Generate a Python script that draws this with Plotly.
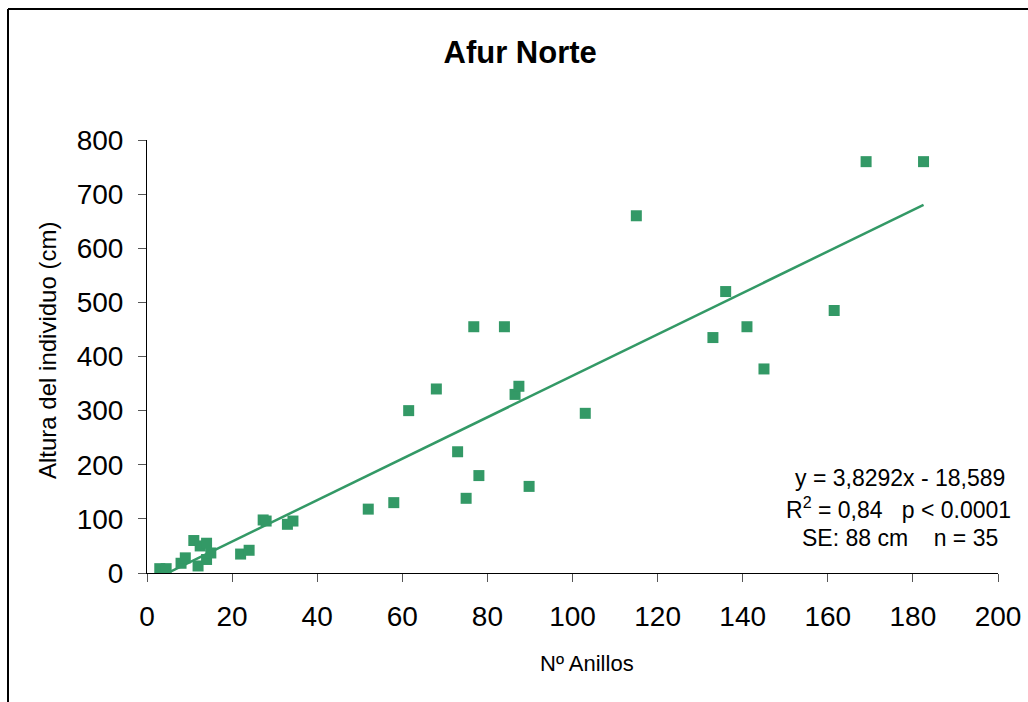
import plotly.graph_objects as go

# Data
anillos = [3, 4.5, 8, 9, 11, 12, 12.5, 14, 14, 15, 22, 24, 27.3, 28, 33, 34.3,
           52, 58, 61.5, 68, 73, 75, 76.8, 78, 84, 86.5, 87.4, 89.8, 103,
           115, 133, 136, 141, 145, 161.5, 169, 182.5]
altura = [8, 8, 18, 28, 60, 13, 50, 55, 25, 37, 35, 42, 98, 96, 90, 96,
          118, 130, 300, 340, 224, 138, 455, 180, 455, 330, 345, 160, 295,
          660, 435, 520, 455, 377, 485, 760, 760]

slope = 3.8292
intercept = -18.589
trend_x = [min(anillos), max(anillos)]
trend_y = [slope * v + intercept for v in trend_x]

x_ticks = [0, 20, 40, 60, 80, 100, 120, 140, 160, 180, 200]
y_ticks = [0, 100, 200, 300, 400, 500, 600, 700, 800]

green = "#339966"
font = "Liberation Sans, Arial, sans-serif"

fig = go.Figure()
fig.add_trace(go.Scatter(x=trend_x, y=trend_y, mode="lines",
                         line=dict(color=green, width=2.5), hoverinfo="skip"))
fig.add_trace(go.Scatter(x=anillos, y=altura, mode="markers",
                         marker=dict(symbol="square", size=11, color=green,
                                     line=dict(width=0))))

W, H = 1028, 702
L, R, T, B = 147, 30, 140, 129

fig.update_layout(
    width=W, height=H,
    margin=dict(l=L, r=R, t=T, b=B, autoexpand=False),
    paper_bgcolor="white", plot_bgcolor="white",
    showlegend=False,
    font=dict(family=font, color="black"),
    title=dict(text="<b>Afur Norte</b>", x=0.506, xanchor="center",
               y=1 - 52 / H, yanchor="middle",
               font=dict(size=31, family=font, color="black")),
    xaxis=dict(range=[0, 200], tickvals=x_ticks, showgrid=False, zeroline=False,
               showline=True, linecolor="black", linewidth=1, automargin=False,
               ticks="outside", ticklen=8, tickcolor="#555555", tickwidth=1,
               tickfont=dict(size=28), ticklabelstandoff=10),
    yaxis=dict(range=[0, 800], tickvals=y_ticks, showgrid=False, zeroline=False,
               showline=True, linecolor="black", linewidth=1, automargin=False,
               ticks="outside", ticklen=8, tickcolor="#555555", tickwidth=1,
               tickfont=dict(size=28), ticklabelstandoff=9),
)

pw = W - L - R
ph = H - T - B
def px(xp):
    return (xp - L) / pw
def py(yp):
    return (H - B - yp) / ph

# axis titles
fig.add_annotation(text="Nº Anillos", xref="paper", yref="paper",
                   x=px(587), y=py(663), xanchor="center", yanchor="middle",
                   showarrow=False, font=dict(size=22, family=font, color="black"))
fig.add_annotation(text="Altura del individuo (cm)", xref="paper", yref="paper",
                   x=px(47), y=py(351), xanchor="center", yanchor="middle",
                   textangle=-90, showarrow=False,
                   font=dict(size=24, family=font, color="black"))

nb = "\u00a0"
lines = [("y = 3,8292x - 18,589", 900, 478),
         ("R<sup>2</sup> = 0,84" + nb * 3 + "p < 0.0001", 898, 508),
         ("SE: 88 cm" + nb * 4 + "n = 35", 900, 538)]
for txt, xc, yc in lines:
    fig.add_annotation(text=txt, xref="paper", yref="paper", x=px(xc), y=py(yc),
                       xanchor="center", yanchor="middle", showarrow=False,
                       font=dict(size=23, family=font, color="black"))

# outer frame (top and left edges)
fig.add_shape(type="line", xref="paper", yref="paper",
              x0=px(8), x1=px(W + 5), y0=py(9), y1=py(9),
              line=dict(color="black", width=2))
fig.add_shape(type="line", xref="paper", yref="paper",
              x0=px(8), x1=px(8), y0=py(9), y1=py(H + 5),
              line=dict(color="black", width=2))

fig.write_html("out.html")
